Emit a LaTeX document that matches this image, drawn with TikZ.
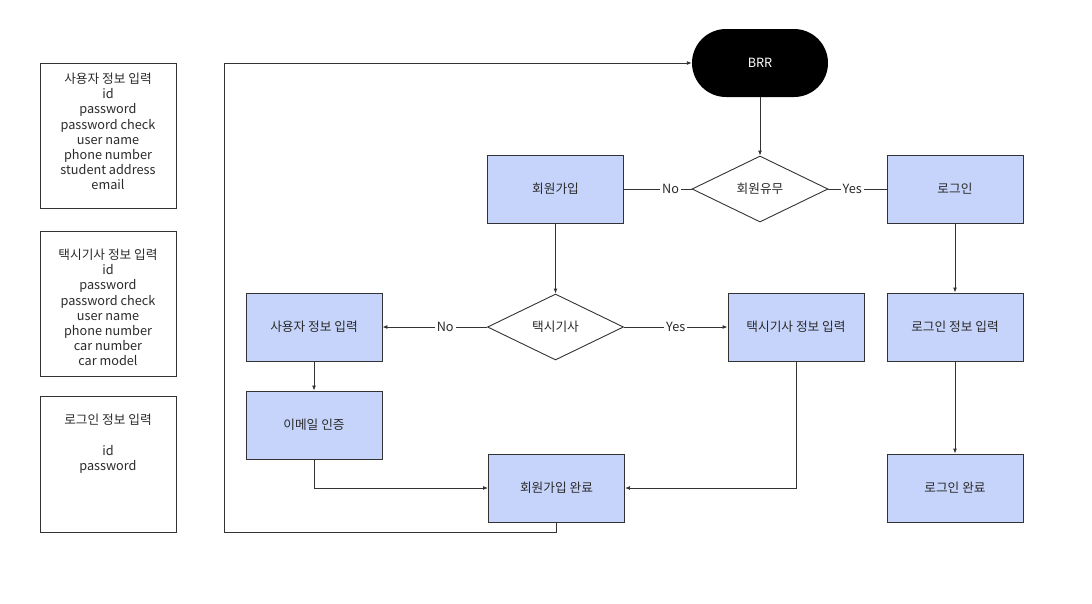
\documentclass[tikz,border=0pt]{standalone}
\usepackage{fontspec}
\setmainfont{Noto Sans CJK KR}
\usetikzlibrary{shapes.geometric,arrows.meta}
\definecolor{boxfill}{HTML}{C6D4FB}
\definecolor{linegray}{HTML}{333333}
\definecolor{txtgray}{HTML}{2A2A2A}
\begin{document}
\begin{tikzpicture}[x=1pt,y=-1pt,
  every node/.style={font=\fontsize{12.7}{15.2}\selectfont, text=txtgray},
  procbox/.style={draw=linegray, fill=boxfill, line width=0.9pt, minimum width=136pt, minimum height=68pt, inner sep=0pt},
  notebox/.style={draw=linegray, line width=0.9pt, minimum width=136pt, inner sep=0pt, align=center},
  decision/.style={draw=linegray, fill=white, line width=0.9pt, diamond, aspect=2.06, minimum width=136pt, minimum height=66pt, inner sep=0pt},
  terminal/.style={fill=black, rounded corners=34pt, minimum width=136pt, minimum height=68pt, text=white, inner sep=0pt},
  conn/.style={draw=linegray, line width=0.9pt},
  arr/.style={conn, -{Latex[length=5pt,width=4pt]}},
  lbl/.style={fill=white, inner sep=2pt}
]
\useasboundingbox (0,0) rectangle (1092,603);

% field lists on the left
\node[notebox, minimum height=145pt] (userfields) at (108,135.5) {};
\node[align=center] (userfieldstxt) at (108,131.5) {사용자 정보 입력\\id\\password\\password check\\user name\\phone number\\student address\\email};
\node[notebox, minimum height=145pt] (taxifields) at (108,303.5) {};
\node[align=center] (taxifieldstxt) at (108,307.5) {택시기사 정보 입력\\id\\password\\password check\\user name\\phone number\\car number\\car model};
\node[notebox, minimum height=136pt] (loginfields) at (108,464) {};
\node[align=center, anchor=north] (loginfieldstxt) at (108,410) {로그인 정보 입력\\[16pt]id\\password};

% flowchart
\node[terminal] (brr) at (760,63) {BRR};
\node[decision] (member) at (760,189) {회원유무};
\node[procbox] (signup) at (555.5,189) {회원가입};
\node[procbox] (login) at (955,189) {로그인};
\node[decision] (taxi) at (555.5,327) {택시기사};
\node[procbox] (userinfo) at (314,327) {사용자 정보 입력};
\node[procbox] (taxiinfo) at (796,327) {택시기사 정보 입력};
\node[procbox] (logininfo) at (955,327) {로그인 정보 입력};
\node[procbox] (email) at (314,425) {이메일 인증};
\node[procbox] (done) at (556.5,488) {회원가입 완료};
\node[procbox] (logindone) at (955,488) {로그인 완료};

\coordinate (loopA) at (556.5,532);
\coordinate (loopB) at (224,532);
\coordinate (loopC) at (224,63);

\draw[arr] (brr) -- (member);
\draw[conn] (member.west) -- node[lbl, pos=0.31] {No} (signup.east);
\draw[conn] (member.east) -- node[lbl, pos=0.41] {Yes} (login.west);
\draw[arr] (signup) -- (taxi);
\draw[arr] (taxi.west) -- node[lbl, pos=0.4] {No} (userinfo.east);
\draw[arr] (taxi.east) -- node[lbl] {Yes} (taxiinfo.west);
\draw[arr] (login) -- (logininfo);
\draw[arr] (logininfo) -- (logindone);
\draw[arr] (userinfo) -- (email);
\draw[arr] (email.south) |- (done.west);
\draw[arr] (taxiinfo.south) |- (done.east);
\draw[arr] (done.south) -- (loopA) -- (loopB) -- (loopC) -- (brr.west);
\end{tikzpicture}
\end{document}
